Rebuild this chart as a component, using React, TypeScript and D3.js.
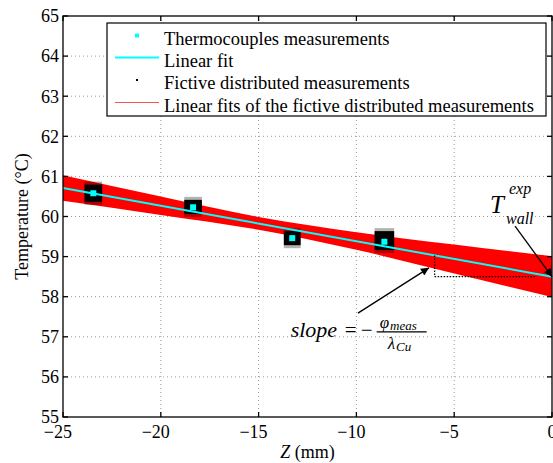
import React, { useEffect, useRef } from 'react';
import * as d3 from 'd3';

// thermocouple measurements (Z in mm, T in °C)
const thermoZ = [-23.45, -18.35, -13.28, -8.57];
const thermoT = [60.58, 60.23, 59.46, 59.37];

// fictive distributed measurements: cloud extent around each thermocouple
const fictiveHalfZ = [0.45, 0.45, 0.43, 0.5];
const fictiveTLow = [60.29, 59.99, 59.21, 59.09];
const fictiveTHigh = [60.87, 60.49, 59.71, 59.71];

// linear fit of the thermocouples
const fitZ = [-25, 0];
const fitT = [60.71, 58.5];

// envelope of the linear fits of the fictive measurements
const bandZ = [-25, -20, -15, -10, -5, 0];
const bandUpper = [61.03, 60.5, 59.99, 59.61, 59.3, 59.01];
const bandLower = [60.39, 60.04, 59.67, 59.17, 58.58, 57.99];

const xTicks = [-25, -20, -15, -10, -5, 0];
const yTicks = [55, 56, 57, 58, 59, 60, 61, 62, 63, 64, 65];

const legendLabels = [
  'Thermocouples measurements',
  'Linear fit',
  'Fictive distributed measurements',
  'Linear fits of the fictive distributed measurements',
];

// slope triangle and arrows, in data coordinates
const slopeVertical = [{ z: -6, t: 59.03 }, { z: -6, t: 58.5 }];
const slopeHorizontal = [{ z: -6, t: 58.5 }, { z: -0.85, t: 58.5 }];
const slopeArrow = [{ z: -9.92, t: 57.59 }, { z: -6.29, t: 58.72 }];
const wallArrow = [{ z: -1.89, t: 59.76 }, { z: 0, t: 58.5 }];
const slopeLabelPos = { z: -13.36, t: 57.0 };
const wallLabelPos = { z: -3.17, t: 60.08 };

const App = () => {
  const chartRef = useRef<SVGSVGElement>(null);

  useEffect(() => {
    const width = 553;
    const height = 463;
    const margin = { top: 16, right: 1, bottom: 46, left: 63 };
    const font = '"Liberation Serif", "Times New Roman", serif';

    const x = d3.scaleLinear().domain([-25, 0]).range([margin.left, width - margin.right]);
    const y = d3.scaleLinear().domain([55, 65]).range([height - margin.bottom, margin.top]);

    const svg = d3.select(chartRef.current);
    svg.selectAll('*').remove();

    svg.append('rect').attr('width', width).attr('height', height).attr('fill', '#fff');

    const defs = svg.append('defs');
    defs.append('marker')
      .attr('id', 'arrow')
      .attr('viewBox', '0 0 10 10')
      .attr('refX', 10)
      .attr('refY', 5)
      .attr('markerWidth', 11)
      .attr('markerHeight', 8)
      .attr('markerUnits', 'userSpaceOnUse')
      .attr('orient', 'auto')
      .append('path')
      .attr('d', 'M0,0 L10,5 L0,10 z')
      .attr('fill', '#000');

    // grid
    const grid = svg.append('g').attr('stroke', '#999').attr('stroke-dasharray', '1,3').attr('stroke-width', 1);
    xTicks.slice(1, -1).forEach(t => {
      grid.append('line').attr('x1', x(t)).attr('x2', x(t)).attr('y1', y(55)).attr('y2', y(65));
    });
    yTicks.slice(1, -1).forEach(t => {
      grid.append('line').attr('x1', x(-25)).attr('x2', x(0)).attr('y1', y(t)).attr('y2', y(t));
    });

    const plot = svg.append('g');

    // red band of fictive fits
    const band = bandZ.map((z, i) => ({ z, hi: bandUpper[i], lo: bandLower[i] }));
    plot.append('path')
      .datum(band)
      .attr('d', d3.area<any>()
        .x(d => x(d.z))
        .y0(d => y(d.lo))
        .y1(d => y(d.hi))
        .curve(d3.curveMonotoneX))
      .attr('fill', '#ff0000');

    // fictive distributed measurement clouds
    thermoZ.forEach((z, i) => {
      const x0 = x(z - fictiveHalfZ[i]);
      const x1 = x(z + fictiveHalfZ[i]);
      plot.append('rect')
        .attr('x', x0)
        .attr('width', x1 - x0)
        .attr('y', y(fictiveTHigh[i]))
        .attr('height', y(fictiveTLow[i]) - y(fictiveTHigh[i]))
        .attr('fill', '#000')
        .attr('opacity', 0.3);
      plot.append('rect')
        .attr('x', x0)
        .attr('width', x1 - x0)
        .attr('y', y(fictiveTHigh[i]) + 3)
        .attr('height', y(fictiveTLow[i]) - y(fictiveTHigh[i]) - 6)
        .attr('fill', '#000');
    });

    // linear fit
    const line = d3.line<any>().x(d => x(d.z)).y(d => y(d.t));
    plot.append('path')
      .datum(fitZ.map((z, i) => ({ z, t: fitT[i] })))
      .attr('d', line)
      .attr('fill', 'none')
      .attr('stroke', '#00ffff')
      .attr('stroke-width', 2);

    // thermocouple markers
    thermoZ.forEach((z, i) => {
      plot.append('rect')
        .attr('x', x(z) - 3)
        .attr('y', y(thermoT[i]) - 3)
        .attr('width', 6)
        .attr('height', 6)
        .attr('fill', '#00ffff');
    });

    // slope triangle
    [slopeVertical, slopeHorizontal].forEach(seg => {
      plot.append('path')
        .datum(seg)
        .attr('d', line)
        .attr('fill', 'none')
        .attr('stroke', '#000')
        .attr('stroke-width', 1.2)
        .attr('stroke-dasharray', '1.5,1.5');
    });

    // arrows
    [slopeArrow, wallArrow].forEach(seg => {
      plot.append('path')
        .datum(seg)
        .attr('d', line)
        .attr('fill', 'none')
        .attr('stroke', '#000')
        .attr('stroke-width', 1.3)
        .attr('marker-end', 'url(#arrow)');
    });

    // slope label
    const sx = x(slopeLabelPos.z);
    const sy = y(slopeLabelPos.t);
    const sl = svg.append('g').attr('font-family', font).attr('fill', '#000');
    sl.append('text').attr('x', sx).attr('y', sy).attr('font-size', 22).attr('font-style', 'italic').text('slope');
    sl.append('text').attr('x', sx + 54).attr('y', sy).attr('font-size', 21).text('=');
    sl.append('text').attr('x', sx + 70).attr('y', sy).attr('font-size', 21).text('\u2212');
    sl.append('line')
      .attr('x1', sx + 86).attr('x2', sx + 136)
      .attr('y1', sy - 5).attr('y2', sy - 5)
      .attr('stroke', '#000').attr('stroke-width', 1.3);
    const num = sl.append('text').attr('x', sx + 89).attr('y', sy - 9).attr('font-style', 'italic');
    num.append('tspan').attr('font-size', 17).text('\u03c6');
    num.append('tspan').attr('font-size', 13).attr('dy', 2).attr('dx', 1).text('meas');
    const den = sl.append('text').attr('x', sx + 97).attr('y', sy + 12).attr('font-style', 'italic');
    den.append('tspan').attr('font-size', 17).text('\u03bb');
    den.append('tspan').attr('font-size', 13).attr('dy', 2).attr('dx', 1).text('Cu');

    // T wall label
    const wx = x(wallLabelPos.z);
    const wy = y(wallLabelPos.t);
    const wl = svg.append('g').attr('font-family', font).attr('font-style', 'italic').attr('fill', '#000');
    wl.append('text').attr('x', wx).attr('y', wy).attr('font-size', 25).text('T');
    wl.append('text').attr('x', wx + 19).attr('y', wy - 19).attr('font-size', 16).text('exp');
    wl.append('text').attr('x', wx + 16).attr('y', wy + 11).attr('font-size', 16).text('wall');

    // axes box and inward ticks
    const axes = svg.append('g').attr('stroke', '#000').attr('stroke-width', 1.3);
    axes.append('rect')
      .attr('x', x(-25)).attr('y', y(65))
      .attr('width', x(0) - x(-25)).attr('height', y(55) - y(65))
      .attr('fill', 'none');
    xTicks.forEach(t => {
      axes.append('line').attr('x1', x(t)).attr('x2', x(t)).attr('y1', y(55)).attr('y2', y(55) - 5);
      axes.append('line').attr('x1', x(t)).attr('x2', x(t)).attr('y1', y(65)).attr('y2', y(65) + 5);
    });
    yTicks.forEach(t => {
      axes.append('line').attr('x1', x(-25)).attr('x2', x(-25) + 5).attr('y1', y(t)).attr('y2', y(t));
      axes.append('line').attr('x1', x(0)).attr('x2', x(0) - 5).attr('y1', y(t)).attr('y2', y(t));
    });

    const labels = svg.append('g').attr('font-family', font).attr('font-size', 18).attr('fill', '#000');
    xTicks.forEach(t => {
      const digits = String(Math.abs(t));
      labels.append('text')
        .attr('x', x(t) + digits.length * 9 / 2)
        .attr('y', y(55) + 21)
        .attr('text-anchor', 'end')
        .text(t < 0 ? '\u2212' + digits : digits);
    });
    yTicks.forEach(t => {
      labels.append('text')
        .attr('x', x(-25) - 4)
        .attr('y', y(t))
        .attr('dy', '0.35em')
        .attr('text-anchor', 'end')
        .text(String(t));
    });

    // axis titles
    const xTitle = labels.append('text')
      .attr('x', (x(-25) + x(0)) / 2)
      .attr('y', 458)
      .attr('text-anchor', 'middle');
    xTitle.append('tspan').attr('font-style', 'italic').text('Z');
    xTitle.append('tspan').text(' (mm)');
    labels.append('text')
      .attr('transform', `translate(28, ${(y(55) + y(65)) / 2}) rotate(-90)`)
      .attr('text-anchor', 'middle')
      .text('Temperature (\u00b0C)');

    // legend
    const lg = svg.append('g');
    lg.append('rect')
      .attr('x', 107).attr('y', 23)
      .attr('width', 439).attr('height', 93)
      .attr('fill', '#fff').attr('stroke', '#000').attr('stroke-width', 1.2);
    const rowY = [35.5, 57.5, 80, 102.5];
    lg.append('rect').attr('x', 135).attr('y', rowY[0] - 2).attr('width', 4).attr('height', 4).attr('fill', '#00ffff');
    lg.append('line').attr('x1', 115).attr('x2', 159).attr('y1', rowY[1]).attr('y2', rowY[1])
      .attr('stroke', '#00ffff').attr('stroke-width', 2);
    lg.append('rect').attr('x', 136).attr('y', rowY[2] - 1).attr('width', 2).attr('height', 2).attr('fill', '#000');
    lg.append('line').attr('x1', 115).attr('x2', 159).attr('y1', rowY[3]).attr('y2', rowY[3])
      .attr('stroke', '#ff5050').attr('stroke-width', 1.2);
    legendLabels.forEach((label, i) => {
      lg.append('text')
        .attr('x', 164)
        .attr('y', rowY[i] + 9)
        .attr('font-family', font)
        .attr('font-size', 18.5)
        .text(label);
    });
  }, []);

  return (
    <svg
      ref={chartRef}
      width={553}
      height={463}
      style={{ position: 'absolute', left: 0, top: 0 }}
    />
  );
};

export default App;
